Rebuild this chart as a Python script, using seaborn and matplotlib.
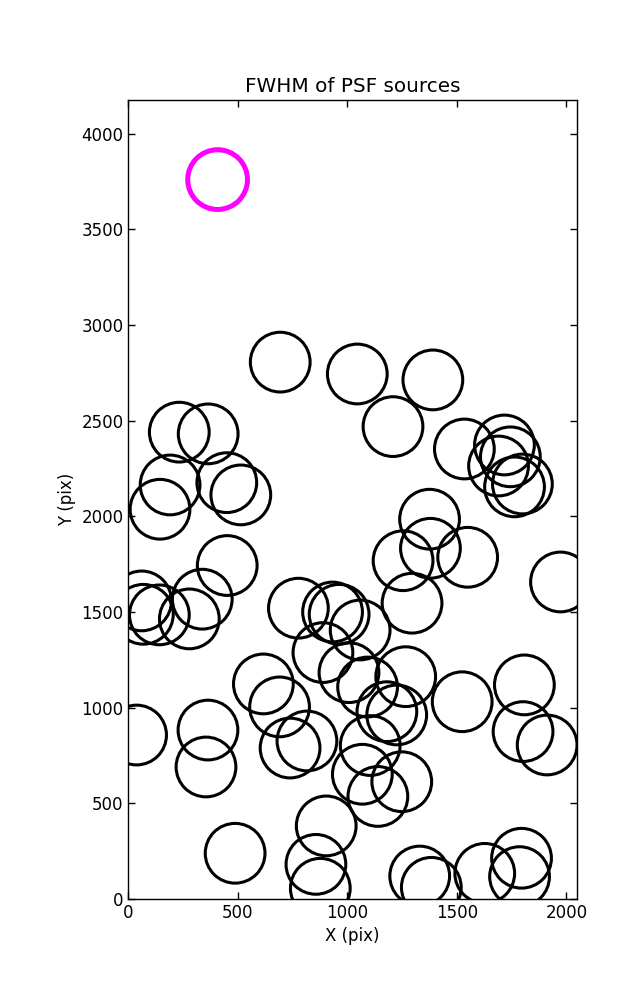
import numpy as np
import pandas as pd
import matplotlib
matplotlib.use('Agg')
import matplotlib.pyplot as plt
import seaborn as sns

# PSF source positions (pix)
x_src = [693, 1045, 1390, 1208, 232, 364, 190, 449, 513, 144,
         1534, 1717, 1744, 1690, 1763, 1799, 1375, 1379, 1254, 1549,
         1973, 1295, 451, 60, 68, 141, 278, 337, 776, 932,
         962, 1058, 888, 1007, 1092, 1266, 616, 690, 1180, 1225,
         1524, 1808, 1802, 1912, 37, 363, 354, 738, 815, 1104,
         1068, 1139, 1248, 903, 487, 856, 876, 1330, 1383, 1627,
         1795, 1786]
y_src = [2806, 2744, 2713, 2469, 2440, 2431, 2164, 2176, 2112, 2037,
         2352, 2373, 2311, 2263, 2154, 2169, 1985, 1833, 1768, 1786,
         1657, 1546, 1743, 1558, 1488, 1485, 1464, 1567, 1520, 1500,
         1488, 1406, 1288, 1183, 1108, 1162, 1124, 1004, 979, 962,
         1031, 1119, 875, 805, 857, 883, 690, 789, 826, 802,
         652, 536, 613, 382, 239, 181, 56, 120, 61, 134,
         213, 117]

# reference FWHM marker
x_ref = [407]
y_ref = [3760]

df = pd.DataFrame({'x': x_src, 'y': y_src})
df_ref = pd.DataFrame({'x': x_ref, 'y': y_ref})

sns.set_style('ticks', {'xtick.direction': 'in', 'ytick.direction': 'in'})
plt.rcParams.update({'text.color': 'black', 'axes.labelcolor': 'black',
                     'xtick.color': 'black', 'ytick.color': 'black',
                     'axes.edgecolor': 'black'})

fig = plt.figure(figsize=(6.37, 10), dpi=100)
ax = fig.add_axes([0.2017, 0.101, 0.704, 0.799])

sns.scatterplot(data=df, x='x', y='y', s=1850, facecolors='none',
                edgecolor='black', linewidth=2.2, ax=ax)
sns.scatterplot(data=df_ref, x='x', y='y', s=1850, facecolors='none',
                edgecolor='magenta', linewidth=3.6, ax=ax)

ax.set_xlim(0, 2048)
ax.set_ylim(0, 4176)
ax.set_xticks([0, 500, 1000, 1500, 2000])
ax.set_yticks([0, 500, 1000, 1500, 2000, 2500, 3000, 3500, 4000])
ax.tick_params(top=True, right=True, labelsize=12, length=5, width=1,
               color='black', labelcolor='black')
for sp in ax.spines.values():
    sp.set_color('black')
    sp.set_linewidth(1)

ax.set_title('FWHM of PSF sources', fontsize=14.4, color='black')
ax.set_xlabel('X (pix)', fontsize=12, color='black')
ax.set_ylabel('Y (pix)', fontsize=12, color='black')

plt.savefig('out.png', dpi=100)
